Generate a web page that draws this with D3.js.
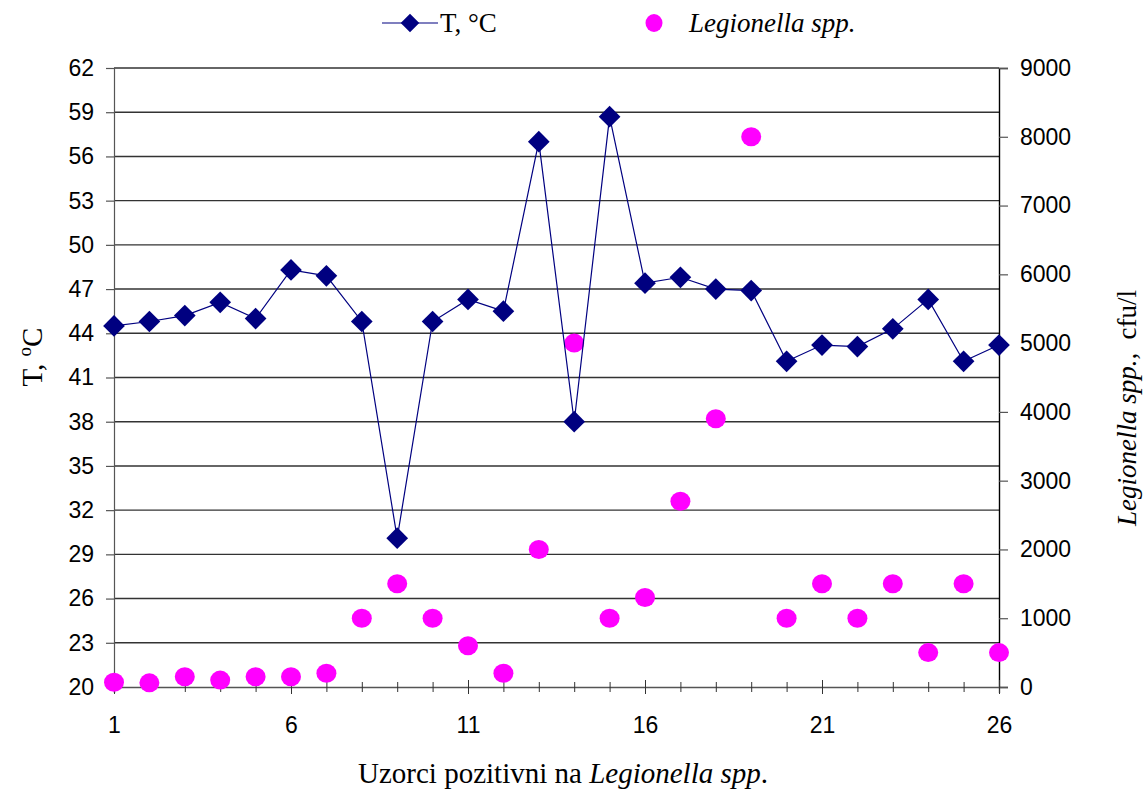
<!DOCTYPE html>
<html>
<head>
<meta charset="utf-8">
<script src="https://cdn.jsdelivr.net/npm/d3@7"></script>
<style>
  body { margin: 0; background: #fff; }
  svg { display: block; }
  .tick text { font-family: "Liberation Sans", Arial, sans-serif; font-size: 23px; fill: #000; }
</style>
</head>
<body>
<div id="chart"></div>
<script>
// sample number (x), temperature (left axis), Legionella count (right axis)
const samples = d3.range(1, 27);
const temperature = [44.5, 44.8, 45.2, 46.1, 45.0, 48.3, 47.9, 44.8, 30.1, 44.8, 46.3, 45.5, 57.0,
  38.0, 58.7, 47.4, 47.8, 47.0, 46.9, 42.1, 43.2, 43.1, 44.3, 46.3, 42.1, 43.2];
const legionella = [70, 60, 150, 100, 150, 150, 200, 1000, 1500, 1000, 600, 200, 2000,
  5000, 1000, 1300, 2700, 3900, 8000, 1000, 1500, 1000, 1500, 500, 1500, 500];
const tempTicks = d3.range(20, 63, 3);
const cfuTicks = d3.range(0, 9001, 1000);
const xLabelled = [1, 6, 11, 16, 21, 26];

const width = 1148;
const height = 790;
const margin = { top: 68, right: 149, bottom: 103, left: 114 };

const svg = d3.select('#chart').append('svg')
  .attr('width', width)
  .attr('height', height);

const x = d3.scaleLinear().domain([1, 26]).range([margin.left, width - margin.right]);
const yT = d3.scaleLinear().domain([20, 62]).range([height - margin.bottom, margin.top]);
const yL = d3.scaleLinear().domain([0, 9000]).range([height - margin.bottom, margin.top]);

// horizontal grid lines follow the temperature axis
svg.append('g')
  .selectAll('line')
  .data(tempTicks.slice(1))
  .join('line')
  .attr('x1', margin.left)
  .attr('x2', width - margin.right)
  .attr('y1', (d) => yT(d))
  .attr('y2', (d) => yT(d))
  .attr('stroke', '#333')
  .attr('stroke-width', 1.4);

// left axis
const leftAxis = svg.append('g')
  .attr('transform', `translate(${margin.left},0)`)
  .call(d3.axisLeft(yT).tickValues(tempTicks).tickSize(8).tickPadding(12).tickFormat(d3.format('d')));
leftAxis.select('.domain').attr('stroke', '#555').attr('stroke-width', 1.2);
leftAxis.selectAll('.tick line').attr('stroke', '#555').attr('stroke-width', 1.2);

// right axis
const rightAxis = svg.append('g')
  .attr('transform', `translate(${width - margin.right},0)`)
  .call(d3.axisRight(yL).tickValues(cfuTicks).tickSize(9).tickPadding(12).tickFormat(d3.format('d')));
rightAxis.select('.domain').attr('stroke', '#000').attr('stroke-width', 1.4);
rightAxis.selectAll('.tick line').attr('stroke', '#555').attr('stroke-width', 1.2);

// bottom axis, ticks cross the line
const bottomAxis = svg.append('g')
  .attr('transform', `translate(0,${height - margin.bottom})`)
  .call(d3.axisBottom(x).tickValues(samples).tickSize(6).tickPadding(24)
    .tickFormat((d) => (xLabelled.includes(d) ? d : '')));
bottomAxis.select('.domain').attr('stroke', '#555').attr('stroke-width', 1.4);
bottomAxis.selectAll('.tick line')
  .attr('y1', (d) => (xLabelled.includes(d) ? -7 : -5))
  .attr('y2', (d) => (xLabelled.includes(d) ? 7 : 5))
  .attr('stroke', '#333')
  .attr('stroke-width', 1);

// Legionella points
svg.append('g')
  .selectAll('ellipse')
  .data(legionella)
  .join('ellipse')
  .attr('cx', (d, i) => x(samples[i]))
  .attr('cy', (d) => yL(d))
  .attr('rx', 10)
  .attr('ry', 9.5)
  .attr('fill', '#ff00ff');

// temperature line with diamonds
const line = d3.line()
  .x((d, i) => x(samples[i]))
  .y((d) => yT(d));

svg.append('path')
  .datum(temperature)
  .attr('fill', 'none')
  .attr('stroke', '#000080')
  .attr('stroke-width', 1.2)
  .attr('d', line);

const diamond = d3.symbol().type(d3.symbolDiamond2).size(300);
svg.append('g')
  .selectAll('path')
  .data(temperature)
  .join('path')
  .attr('transform', (d, i) => `translate(${x(samples[i])},${yT(d)})`)
  .attr('d', diamond)
  .attr('fill', '#000080');

const serif = '"Liberation Serif", "Times New Roman", serif';

// legend
const legend = svg.append('g').style('font-family', serif).style('font-size', '27px');
legend.append('line')
  .attr('x1', 382).attr('x2', 438).attr('y1', 23).attr('y2', 23)
  .attr('stroke', '#000080').attr('stroke-width', 1.2);
legend.append('path')
  .attr('transform', 'translate(410,23)')
  .attr('d', d3.symbol().type(d3.symbolDiamond2).size(220))
  .attr('fill', '#000080');
legend.append('text').attr('x', 440).attr('y', 32).text('T, °C');
legend.append('ellipse')
  .attr('cx', 654).attr('cy', 23).attr('rx', 8.5).attr('ry', 9)
  .attr('fill', '#ff00ff');
legend.append('text').attr('x', 689).attr('y', 32)
  .style('font-style', 'italic')
  .text('Legionella spp.');

// axis titles
const yTitle = svg.append('text')
  .attr('transform', 'translate(42,357) rotate(-90)')
  .attr('text-anchor', 'middle')
  .style('font-family', serif)
  .style('font-size', '29px');
yTitle.append('tspan').text('T, ');
yTitle.append('tspan').attr('dy', -11).style('font-size', '19px').text('o');
yTitle.append('tspan').attr('dy', 11).text('C');

const rTitle = svg.append('text')
  .attr('transform', 'translate(1136,408) rotate(-90)')
  .attr('text-anchor', 'middle')
  .style('font-family', serif)
  .style('font-size', '27px');
rTitle.append('tspan').style('font-style', 'italic').text('Legionella spp.,');
rTitle.append('tspan').text('\u00a0 cfu/l');

const xTitle = svg.append('text')
  .attr('x', 563)
  .attr('y', 783)
  .attr('text-anchor', 'middle')
  .style('font-family', serif)
  .style('font-size', '29px');
xTitle.append('tspan').text('Uzorci pozitivni na ');
xTitle.append('tspan').style('font-style', 'italic').text('Legionella spp');
xTitle.append('tspan').text('.');
</script>
</body>
</html>
